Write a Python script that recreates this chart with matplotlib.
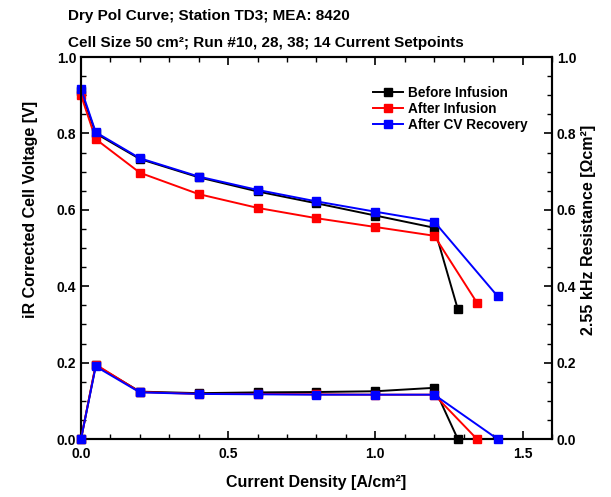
import matplotlib
matplotlib.use("Agg")
import matplotlib.pyplot as plt
from matplotlib.ticker import MultipleLocator, FormatStrFormatter

plt.rcParams['font.family'] = ['Liberation Sans', 'DejaVu Sans']
plt.rcParams['font.weight'] = 'bold'

# Data
x_before = [0.0, 0.05, 0.2, 0.4, 0.6, 0.8, 1.0, 1.2, 1.28]
x_after = [0.0, 0.05, 0.2, 0.4, 0.6, 0.8, 1.0, 1.2, 1.345]
x_cv = [0.0, 0.05, 0.2, 0.4, 0.6, 0.8, 1.0, 1.2, 1.415]

v_before = [0.91, 0.800, 0.733, 0.685, 0.648, 0.617, 0.585, 0.553, 0.340]
v_after = [0.90, 0.785, 0.697, 0.641, 0.605, 0.578, 0.555, 0.532, 0.357]
v_cv = [0.917, 0.803, 0.735, 0.687, 0.652, 0.622, 0.595, 0.569, 0.374]

r_before = [0.0, 0.193, 0.124, 0.120, 0.122, 0.123, 0.125, 0.134, 0.0]
r_after = [0.0, 0.195, 0.123, 0.118, 0.118, 0.117, 0.116, 0.116, 0.0]
r_cv = [0.0, 0.190, 0.122, 0.118, 0.117, 0.116, 0.116, 0.116, 0.0]

labels = ["Before Infusion", "After Infusion", "After CV Recovery"]
colors = ["black", "red", "blue"]

fig = plt.figure(figsize=(6.11, 4.97), dpi=100)
ax = fig.add_axes([0.1326, 0.1167, 0.7708, 0.7686])
ax2 = ax.twinx()

for xs, vs, rs, lab, c in zip([x_before, x_after, x_cv], [v_before, v_after, v_cv],
                              [r_before, r_after, r_cv], labels, colors):
    ax.plot(xs, vs, color=c, marker='s', markersize=6, lw=1.4, label=lab, clip_on=False, zorder=3)
    ax2.plot(xs, rs, color=c, marker='s', markersize=6, lw=1.4, clip_on=False, zorder=3)

ax.set_xlim(0, 1.6)
ax.set_ylim(0, 1.0)
ax2.set_ylim(0, 1.0)

ax.xaxis.set_major_locator(MultipleLocator(0.5))
ax.xaxis.set_minor_locator(MultipleLocator(0.1))
for a in (ax, ax2):
    a.yaxis.set_major_locator(MultipleLocator(0.2))
    a.yaxis.set_minor_locator(MultipleLocator(0.05))

ax.tick_params(axis='both', which='major', direction='in', length=6, width=1.2, labelsize=10, top=True)
ax.tick_params(axis='both', which='minor', direction='in', length=3.5, width=1.0, top=True)
ax2.tick_params(axis='y', which='major', direction='in', length=6, width=1.2, labelsize=10)
ax2.tick_params(axis='y', which='minor', direction='in', length=3.5, width=1.0)
ax.tick_params(axis='x', pad=6)

for a in (ax, ax2):
    for s in a.spines.values():
        s.set_linewidth(1.5)

ax.yaxis.set_major_formatter(FormatStrFormatter('%.1f'))
ax2.yaxis.set_major_formatter(FormatStrFormatter('%.1f'))
ax.xaxis.set_major_formatter(FormatStrFormatter('%.1f'))

for lbl in ax.get_xticklabels() + ax.get_yticklabels() + ax2.get_yticklabels():
    lbl.set_fontweight('bold')

ax.set_xlabel("Current Density [A/cm\u00b2]", fontsize=11.5, fontweight='bold', labelpad=10)
ax.set_ylabel("iR Corrected Cell Voltage [V]", fontsize=11.5, fontweight='bold')
ax2.set_ylabel("2.55 kHz Resistance [\u03a9cm\u00b2]", fontsize=11.5, fontweight='bold')
ax.yaxis.set_label_coords(-0.092, 0.60)
ax2.yaxis.set_label_coords(1.062, 0.547)

fig.text(0.111, 0.967, "Dry Pol Curve; Station TD3; MEA: 8420", fontsize=11, fontweight='bold', ha='left', va='center')
fig.text(0.111, 0.913, "Cell Size 50 cm\u00b2; Run #10, 28, 38; 14 Current Setpoints", fontsize=11, fontweight='bold', ha='left', va='center')

leg = ax.legend(loc='upper right', bbox_to_anchor=(0.975, 0.957), frameon=False, fontsize=9.8,
                handlelength=2.2, handletextpad=0.4, labelspacing=0.15, markerscale=0.9)
for t in leg.get_texts():
    t.set_fontweight('bold')

fig.savefig("out.png", dpi=100)
